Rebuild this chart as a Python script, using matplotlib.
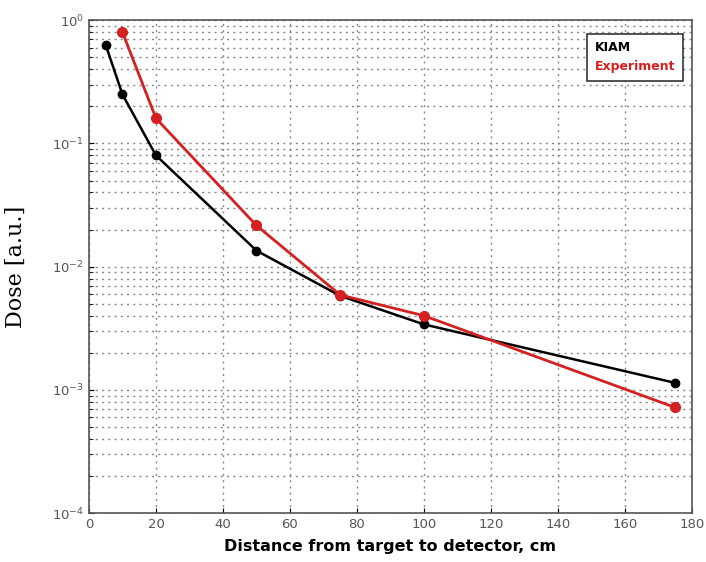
import matplotlib
matplotlib.use("Agg")
import matplotlib.pyplot as plt
from matplotlib.ticker import LogLocator, MultipleLocator

kiam_x = [5, 10, 20, 50, 75, 100, 175]
kiam_dose = [0.63, 0.25, 0.08, 0.0135, 0.0058, 0.0034, 0.00114]

exp_x = [10, 20, 50, 75, 100, 175]
exp_dose = [0.80, 0.16, 0.0216, 0.0059, 0.0040, 0.00072]

fig = plt.figure(figsize=(7.06, 5.62), dpi=100)
ax = fig.add_axes([0.126, 0.087, 0.854, 0.877])

ax.plot(kiam_x, kiam_dose, color="black", lw=1.8, marker="o", ms=6, label="KIAM")
ax.plot(exp_x, exp_dose, color="#d42020", lw=2.0, marker="o", ms=7, label="Experiment")

ax.set_yscale("log")
ax.set_xlim(0, 180)
ax.set_ylim(1e-4, 1e0)
ax.xaxis.set_major_locator(MultipleLocator(20))
ax.yaxis.set_major_locator(LogLocator(base=10, numticks=10))
ax.yaxis.set_minor_locator(LogLocator(base=10, subs=range(2, 10), numticks=20))

ax.grid(True, which="major", linestyle=(0, (1.5, 3)), color="#888888", lw=1.0)
ax.grid(True, which="minor", axis="y", linestyle=(0, (1.5, 3)), color="#888888", lw=1.0)

ax.tick_params(axis="both", which="both", direction="in", labelsize=9.5, labelcolor="#555555")
ax.tick_params(axis="y", which="minor", length=3)
for s in ax.spines.values():
    s.set_color("#555555")
    s.set_linewidth(1.2)

ax.set_xlabel("Distance from target to detector, cm", fontsize=11.5, fontweight="bold", labelpad=6)
ax.set_ylabel("Dose [a.u.]", fontsize=16, family="DejaVu Serif", labelpad=18)

leg = ax.legend(loc="upper right", handlelength=0, handletextpad=0, markerscale=0,
                fancybox=False, edgecolor="#333333", framealpha=1,
                prop={"weight": "bold", "size": 9}, borderpad=0.6, labelspacing=0.45,
                bbox_to_anchor=(0.995, 0.985))
leg.get_frame().set_linewidth(1.2)
for txt, col in zip(leg.get_texts(), ["black", "#d42020"]):
    txt.set_color(col)
for h in leg.legend_handles:
    h.set_visible(False)

fig.savefig("out.png", dpi=100)
